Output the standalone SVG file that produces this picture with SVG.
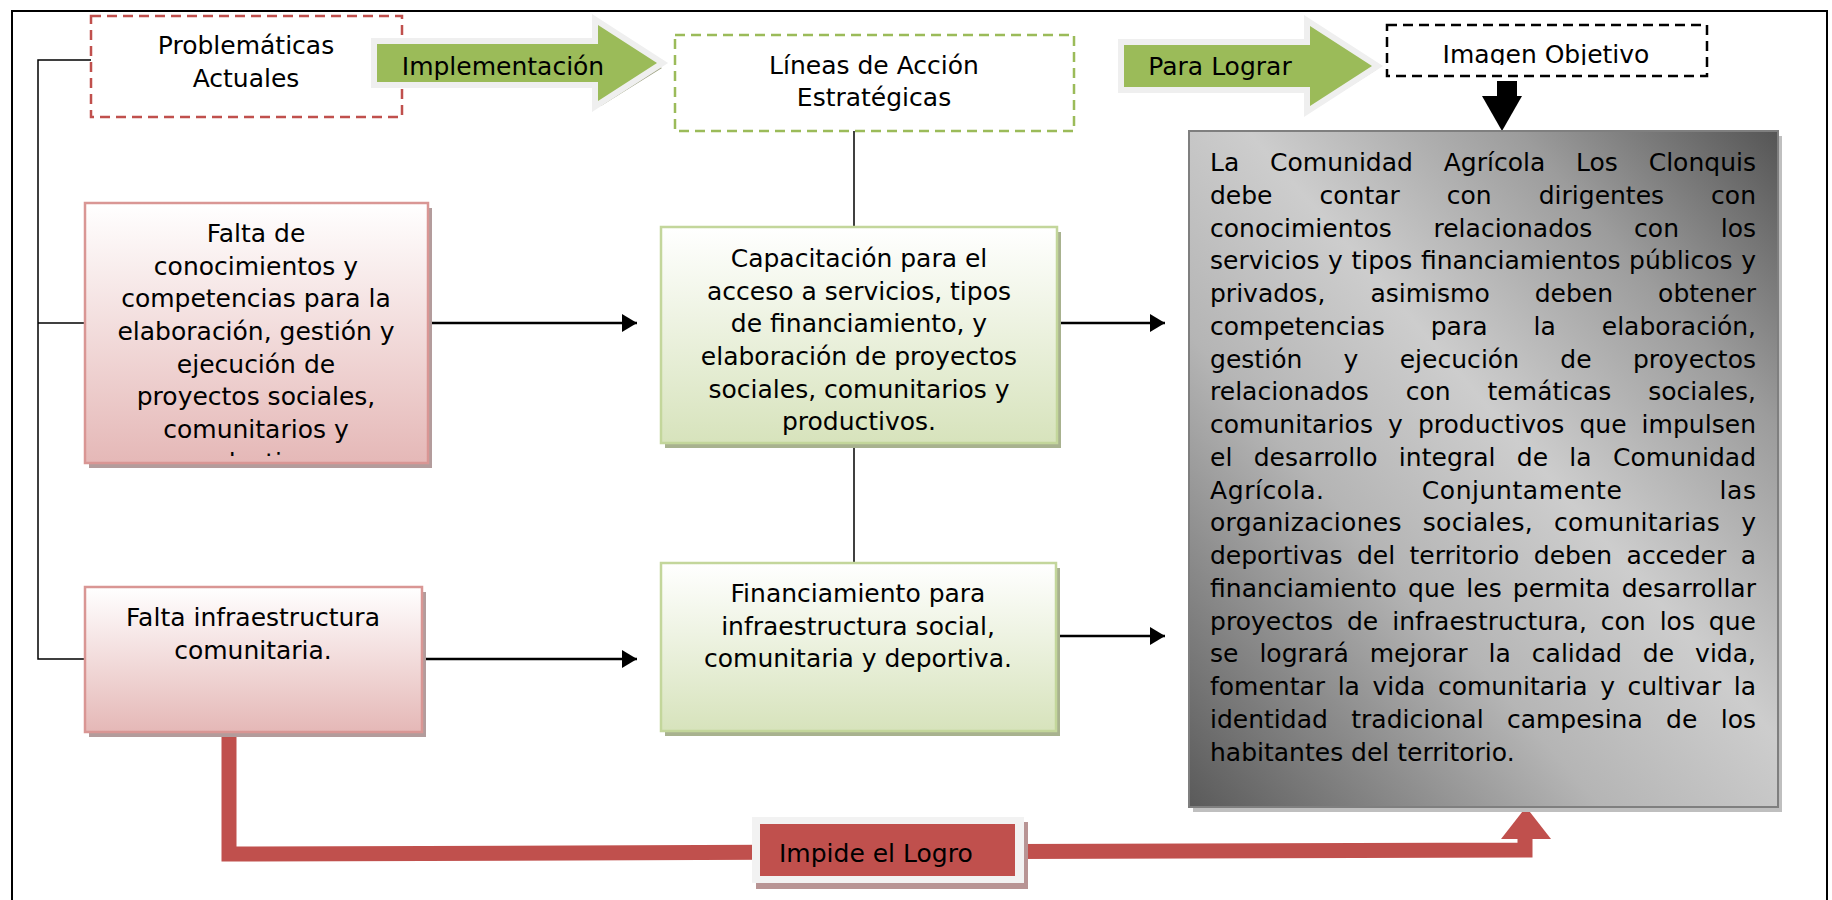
<svg xmlns="http://www.w3.org/2000/svg" width="1832" height="900" viewBox="0 0 1832 900">
<defs>
<style>
text{font-family:"DejaVu Sans","Liberation Sans",sans-serif;font-size:25px;fill:#000}
.c{text-anchor:middle}
.ln{stroke:#000;stroke-width:1.5;fill:none}
.ar{stroke:#000;stroke-width:2.5;fill:none;marker-end:url(#ah)}
.pink{fill:url(#pinkG);stroke:#d99694;stroke-width:2.5}
.green{fill:url(#greenG);stroke:#c3d69b;stroke-width:2.5}
.pshadow{fill:#b39c9c}
.gshadow{fill:#a8b28f}
.bigarrow{fill:#9bbb59;stroke:#efefef;stroke-width:12;paint-order:stroke;stroke-linejoin:miter}
.arrowshadow{fill:#9ea384}
.j{text-anchor:start}
</style>
<marker id="ah" markerWidth="16" markerHeight="18" refX="15" refY="9" orient="auto" markerUnits="userSpaceOnUse">
<path d="M0,0 L15,9 L0,18 z" fill="#000"/>
</marker>
<linearGradient id="pinkG" x1="0" y1="0" x2="0" y2="1">
<stop offset="0" stop-color="#ffffff"/>
<stop offset="1" stop-color="#e5b8b7"/>
</linearGradient>
<linearGradient id="greenG" x1="0" y1="0" x2="0" y2="1">
<stop offset="0" stop-color="#ffffff"/>
<stop offset="1" stop-color="#d7e3bc"/>
</linearGradient>
<linearGradient id="grayG" x1="1" y1="0" x2="0" y2="1">
<stop offset="0" stop-color="#555555"/>
<stop offset="0.22" stop-color="#9c9c9c"/>
<stop offset="0.45" stop-color="#cdcdcd"/>
<stop offset="0.65" stop-color="#b5b5b5"/>
<stop offset="1" stop-color="#5a5a5a"/>
</linearGradient>
<clipPath id="clipFalta"><rect x="85" y="203" width="343" height="253"/></clipPath>
<clipPath id="clipImagen"><rect x="1387" y="20" width="322" height="45"/></clipPath>
</defs>

<rect id="frame" x="12" y="11" width="1815" height="920" fill="none" stroke="#000" stroke-width="2"/>

<g id="connectors">
<polyline class="ln" points="91,60 38,60 38,659 85,659"/>
<line class="ln" x1="38" y1="323" x2="85" y2="323"/>
<line class="ln" x1="854" y1="131" x2="854" y2="227"/>
<line class="ln" x1="854" y1="443" x2="854" y2="563"/>
<line class="ar" x1="428" y1="323" x2="637" y2="323"/>
<line class="ar" x1="1058" y1="323" x2="1165" y2="323"/>
<line class="ar" x1="423" y1="659" x2="637" y2="659"/>
<line class="ar" x1="1058" y1="636" x2="1165" y2="636"/>
<polyline points="229,733 229,854 1525,850 1525,836" fill="none" stroke="#c0504d" stroke-width="15" stroke-linejoin="miter"/>
<polygon points="1501,839 1551,839 1526,807" fill="#c0504d"/>
<rect x="1497" y="81" width="20" height="16" fill="#000"/>
<polygon points="1482,96 1522,96 1502,131" fill="#000"/>
</g>

<g id="problematicas">
<rect x="91" y="16" width="311" height="101" fill="#fff" stroke="#c0504d" stroke-width="2.5" stroke-dasharray="10 6"/>
<text class="c" x="246" y="54">Problemáticas</text>
<text class="c" x="246" y="87">Actuales</text>
</g>

<g id="implementacion">
<polygon class="arrowshadow" points="380,49 601,49 601,30 662,68 601,106 601,87 380,87"/>
<polygon class="bigarrow" points="377,44 598,44 598,25 657,63 598,101 598,82 377,82"/>
<text class="c" x="503" y="75">Implementación</text>
</g>

<g id="lineas">
<rect x="675" y="35" width="399" height="96" fill="#fff" stroke="#9bbb59" stroke-width="2.5" stroke-dasharray="10 6"/>
<text class="c" x="874" y="74">Líneas de Acción</text>
<text class="c" x="874" y="106">Estratégicas</text>
</g>

<g id="paralograr">
<polygon class="arrowshadow" points="1127,50 1313,50 1313,31 1376,70 1313,110 1313,91 1127,91"/>
<polygon class="bigarrow" points="1124,45 1310,45 1310,26 1372,66 1310,106 1310,87 1124,87"/>
<text class="c" x="1220" y="75">Para Lograr</text>
</g>

<g id="imagen">
<rect x="1387" y="25" width="320" height="51" fill="#fff" stroke="#000" stroke-width="2.5" stroke-dasharray="10 6"/>
<text class="c" x="1546" y="63" clip-path="url(#clipImagen)">Imagen Objetivo</text>
</g>

<g id="falta-conocimientos">
<rect class="pshadow" x="89" y="208" width="343" height="260"/>
<rect class="pink" x="85" y="203" width="343" height="260"/>
<g clip-path="url(#clipFalta)">
<text class="c" x="256" y="242">Falta de</text>
<text class="c" x="256" y="275">conocimientos y</text>
<text class="c" x="256" y="307">competencias para la</text>
<text class="c" x="256" y="340">elaboración, gestión y</text>
<text class="c" x="256" y="373">ejecución de</text>
<text class="c" x="256" y="405">proyectos sociales,</text>
<text class="c" x="256" y="438">comunitarios y</text>
<text class="c" x="256" y="471">productivos.</text>
</g>
</g>

<g id="capacitacion">
<rect class="gshadow" x="665" y="232" width="396" height="216"/>
<rect class="green" x="661" y="227" width="396" height="216"/>
<text class="c" x="859" y="267">Capacitación para el</text>
<text class="c" x="859" y="300">acceso a servicios, tipos</text>
<text class="c" x="859" y="332">de financiamiento, y</text>
<text class="c" x="859" y="365">elaboración de proyectos</text>
<text class="c" x="859" y="398">sociales, comunitarios y</text>
<text class="c" x="859" y="430">productivos.</text>
</g>

<g id="falta-infraestructura">
<rect class="pshadow" x="89" y="592" width="337" height="145"/>
<rect class="pink" x="85" y="587" width="337" height="145"/>
<text class="c" x="253" y="626">Falta infraestructura</text>
<text class="c" x="253" y="659">comunitaria.</text>
</g>

<g id="financiamiento">
<rect class="gshadow" x="665" y="568" width="395" height="168"/>
<rect class="green" x="661" y="563" width="395" height="168"/>
<text class="c" x="858" y="602">Financiamiento para</text>
<text class="c" x="858" y="635">infraestructura social,</text>
<text class="c" x="858" y="667">comunitaria y deportiva.</text>
</g>

<g id="imagen-objetivo-texto">
<rect x="1193" y="136" width="589" height="676" fill="#bfbfbf"/>
<rect x="1189" y="131" width="589" height="676" fill="url(#grayG)" stroke="#7f7f7f" stroke-width="2"/>
<text class="j" x="1210" y="171" textLength="546" lengthAdjust="spacing" style="word-spacing:22.8px">La Comunidad Agrícola Los Clonquis</text>
<text class="j" x="1210" y="203.75" textLength="546" lengthAdjust="spacing" style="word-spacing:39.1px">debe contar con dirigentes con</text>
<text class="j" x="1210" y="236.5" textLength="546" lengthAdjust="spacing" style="word-spacing:33.7px">conocimientos relacionados con los</text>
<text class="j" x="1210" y="269.25" textLength="546" lengthAdjust="spacing" style="word-spacing:0.6px">servicios y tipos financiamientos públicos y</text>
<text class="j" x="1210" y="302" textLength="546" lengthAdjust="spacing" style="word-spacing:37.1px">privados, asimismo deben obtener</text>
<text class="j" x="1210" y="334.75" textLength="546" lengthAdjust="spacing" style="word-spacing:38px">competencias para la elaboración,</text>
<text class="j" x="1210" y="367.5" textLength="546" lengthAdjust="spacing" style="word-spacing:33.3px">gestión y ejecución de proyectos</text>
<text class="j" x="1210" y="400.25" textLength="546" lengthAdjust="spacing" style="word-spacing:28.9px">relacionados con temáticas sociales,</text>
<text class="j" x="1210" y="433" textLength="546" lengthAdjust="spacing" style="word-spacing:7.1px">comunitarios y productivos que impulsen</text>
<text class="j" x="1210" y="465.75" textLength="546" lengthAdjust="spacing" style="word-spacing:13.3px">el desarrollo integral de la Comunidad</text>
<text class="j" x="1210" y="498.5" textLength="546" lengthAdjust="spacing" style="word-spacing:88.6px">Agrícola. Conjuntamente las</text>
<text class="j" x="1210" y="531.25" textLength="546" lengthAdjust="spacing" style="word-spacing:12.8px">organizaciones sociales, comunitarias y</text>
<text class="j" x="1210" y="564" textLength="546" lengthAdjust="spacing" style="word-spacing:6.45px">deportivas del territorio deben acceder a</text>
<text class="j" x="1210" y="596.75" textLength="546" lengthAdjust="spacing" style="word-spacing:3.1px">financiamiento que les permita desarrollar</text>
<text class="j" x="1210" y="629.5" textLength="546" lengthAdjust="spacing" style="word-spacing:5.95px">proyectos de infraestructura, con los que</text>
<text class="j" x="1210" y="662.25" textLength="546" lengthAdjust="spacing" style="word-spacing:13px">se logrará mejorar la calidad de vida,</text>
<text class="j" x="1210" y="695" textLength="546" lengthAdjust="spacing" style="word-spacing:4.6px">fomentar la vida comunitaria y cultivar la</text>
<text class="j" x="1210" y="727.75" textLength="546" lengthAdjust="spacing" style="word-spacing:15.4px">identidad tradicional campesina de los</text>
<text class="j" x="1210" y="760.5">habitantes del territorio.</text>
</g>

<g id="impide">
<rect x="756" y="822" width="272" height="67" fill="#b89494"/>
<rect x="752" y="817" width="272" height="66" fill="#f2f2f2"/>
<rect x="760" y="824" width="255" height="52" fill="#c0504d"/>
<text x="779" y="862">Impide el Logro</text>
</g>
</svg>
